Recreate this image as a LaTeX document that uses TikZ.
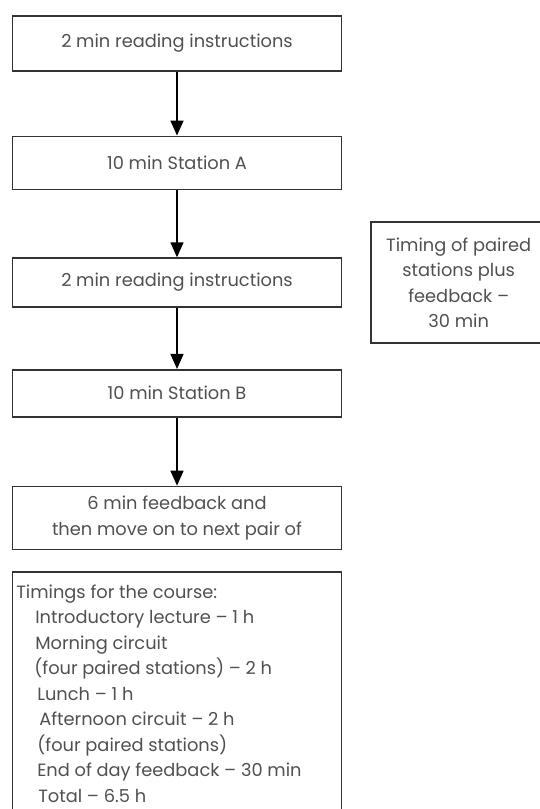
\documentclass[tikz,border=0pt]{standalone}
\usepackage{fontspec}
\setmainfont{Poppins}
\usepackage{tikz}
\usetikzlibrary{arrows.meta, positioning}
\definecolor{boxline}{HTML}{333333}
\definecolor{boxtext}{HTML}{505050}

\begin{document}
\begin{tikzpicture}[
    panel/.style={draw=boxline, line width=1.7pt, text=boxtext, align=center,
      minimum width=329pt, inner sep=0pt, font=\fontsize{17.8}{25.3}\selectfont},
    flow/.style={line width=1.5pt, -{Triangle[width=13pt,length=15pt]}}
  ]
  \useasboundingbox (0,0) rectangle (539pt,-809pt);
  %
  \node[panel, minimum height=55pt] (read1) at (177pt,-43.2pt) {2 min reading instructions};
  \node[panel, minimum height=53pt, below = 64pt of read1] (stationA) {10 min Station A};
  \node[panel, minimum height=49pt, below = 67pt of stationA] (read2) {2 min reading instructions};
  \node[panel, minimum height=47pt, below = 61pt of read2] (stationB) {10 min Station B};
  \node[panel, minimum height=63pt, below = 68pt of stationB] (feedback) {6 min feedback and\\then move on to next pair of};
  \node[panel, minimum height=260pt, below = 21pt of feedback] (course) {};
  %
  \node[panel, minimum width=175pt, minimum height=121pt, right = 28pt of read2] (timing)
    {Timing of paired\\stations plus\\feedback --\\30 min};
  %
  \node[anchor=north west, align=left, inner sep=0pt, text=boxtext,
    font=\fontsize{17.8}{25.5}\selectfont] (courselist) at ([xshift=4.5pt, yshift=-13pt]course.north west)
    {Timings for the course:\\
     \hspace*{19pt}Introductory lecture -- 1 h\\
     \hspace*{19pt}Morning circuit\\
     \hspace*{18pt}(four paired stations) -- 2 h\\
     \hspace*{21pt}Lunch -- 1 h\\
     \hspace*{23pt}Afternoon circuit -- 2 h\\
     \hspace*{21pt}(four paired stations)\\
     \hspace*{21pt}End of day feedback -- 30 min\\
     \hspace*{22pt}Total -- 6.5 h};
  %
  \draw[flow] (read1) -- (stationA);
  \draw[flow] (stationA) -- (read2);
  \draw[flow] (read2) -- (stationB);
  \draw[flow] (stationB) -- (feedback);
\end{tikzpicture}
\end{document}
